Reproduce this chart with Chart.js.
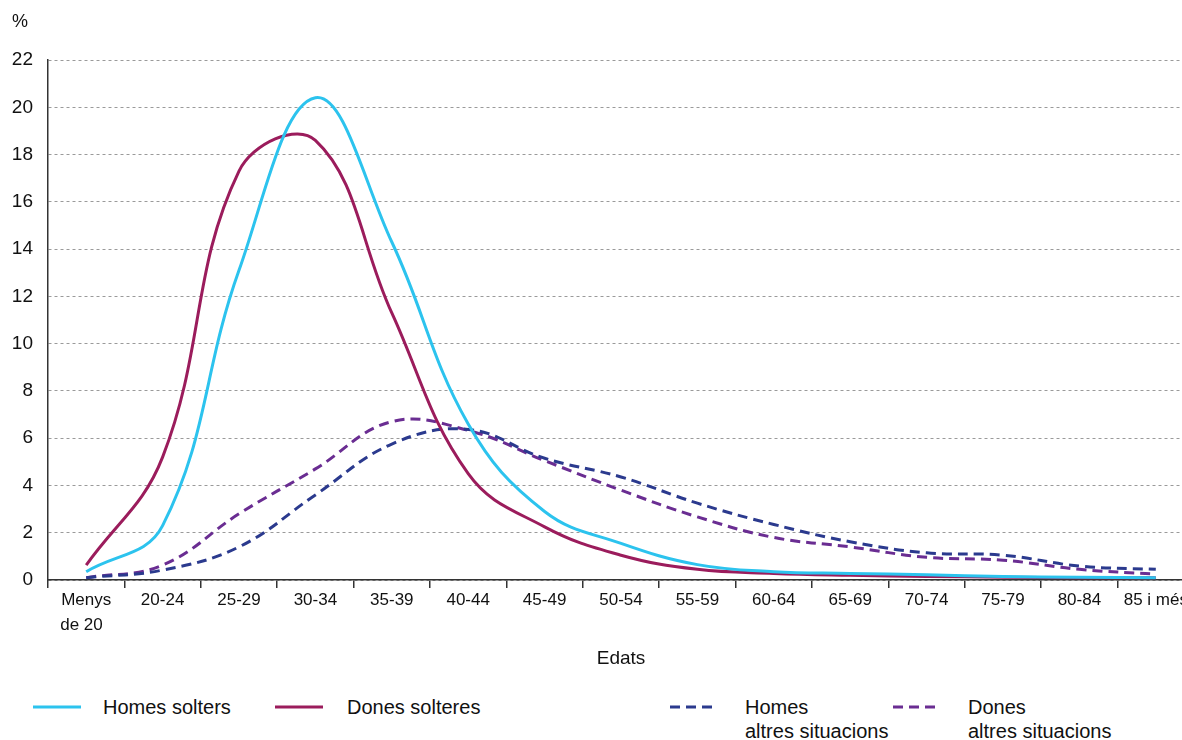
<!DOCTYPE html>
<html>
<head>
<meta charset="utf-8">
<script src="https://cdn.jsdelivr.net/npm/chart.js@4.4.1/dist/chart.umd.min.js"></script>
<style>
html, body { margin: 0; padding: 0; background: #fff; overflow: hidden; }
#wrap { position: relative; width: 1182px; height: 740px; overflow: hidden; font-family: "Liberation Sans", Arial, sans-serif; color: #111; }
#pct { position: absolute; left: 12px; top: 11px; font-size: 18px; }
#chart { position: absolute; left: 0; top: 0; }
.leg-line { position: absolute; top: 705px; }
.leg-txt { position: absolute; top: 695px; font-size: 20px; line-height: 24px; }
</style>
</head>
<body>
<div id="wrap">
  <canvas id="chart" width="1194" height="680"></canvas>
  <div id="pct">%</div>
  <div id="legend"></div>
</div>
<script>
var categories = [['Menys', 'de 20  '], '20-24', '25-29', '30-34', '35-39', '40-44', '45-49', '50-54', '55-59', '60-64', '65-69', '70-74', '75-79', '80-84', '85 i més'];

var homesSolters  = [0.35, 2.3, 13.1, 20.4, 14.3, 6.6, 2.9, 1.55, 0.65, 0.35, 0.28, 0.22, 0.15, 0.12, 0.1];
var donesSolteres = [0.63, 5.2, 17.3, 18.6, 11.3, 4.5, 2.25, 1.05, 0.45, 0.28, 0.2, 0.15, 0.12, 0.1, 0.1];
var homesAltres   = [0.1, 0.42, 1.4, 3.6, 5.75, 6.37, 5.15, 4.36, 3.25, 2.35, 1.62, 1.15, 1.05, 0.59, 0.45];
var donesAltres   = [0.1, 0.63, 2.8, 4.7, 6.7, 6.33, 5.05, 3.8, 2.67, 1.8, 1.4, 0.96, 0.84, 0.45, 0.25];

var yTicks = [0, 2, 4, 6, 8, 10, 12, 14, 16, 18, 20, 22];

var series = [
    { label: ['Homes solters'], data: homesSolters, color: '#2cc3ee', dash: [], left: 33, textLeft: 103 },
    { label: ['Dones solteres'], data: donesSolteres, color: '#9b1c5c', dash: [], left: 275, textLeft: 347 },
    { label: ['Homes', 'altres situacions'], data: homesAltres, color: '#2b3a8e', dash: [10, 6], left: 670, textLeft: 745 },
    { label: ['Dones', 'altres situacions'], data: donesAltres, color: '#6a2d92', dash: [10, 6], left: 893, textLeft: 968 }
];

var FONT = '"Liberation Sans", Arial, sans-serif';

// legend (html, under the chart)
var legHtml = '';
series.forEach(function(s) {
    legHtml += '<svg class="leg-line" style="left:' + s.left + 'px" width="48" height="4">' +
        '<line x1="0" y1="2" x2="48" y2="2" stroke="' + s.color + '" stroke-width="3"' +
        (s.dash.length ? ' stroke-dasharray="' + s.dash.join(' ') + '"' : '') + '/></svg>';
    legHtml += '<div class="leg-txt" style="left:' + s.textLeft + 'px">' + s.label.join('<br>') + '</div>';
});
document.getElementById('legend').innerHTML = legHtml;

var ctx = document.getElementById('chart').getContext('2d');
new Chart(ctx, {
    type: 'line',
    data: {
        labels: categories,
        datasets: series.map(function(s) {
            return {
                label: s.label.join(' '),
                data: s.data,
                borderColor: s.color,
                borderDash: s.dash,
                borderWidth: 3,
                tension: 0.4,
                pointRadius: 0,
                fill: false
            };
        })
    },
    options: {
        responsive: false,
        animation: false,
        layout: { padding: { top: 60, right: 0, left: 0, bottom: 0 } },
        plugins: { legend: { display: false }, tooltip: { enabled: false } },
        scales: {
            x: {
                offset: true,
                grid: { offset: true, drawOnChartArea: false, drawTicks: true, tickLength: 8, color: '#333', lineWidth: 1.5 },
                border: { color: '#333', width: 1.5 },
                ticks: {
                    autoSkip: false, maxRotation: 0, padding: 0, color: '#111',
                    font: { family: FONT, size: 17, lineHeight: 1.45 }
                },
                title: {
                    display: true, text: 'Edats', color: '#111',
                    font: { family: FONT, size: 19 },
                    padding: { top: 0, bottom: 10 }
                },
                afterFit: function(s) { s.height = 100; }
            },
            y: {
                min: 0, max: 22,
                afterBuildTicks: function(s) { s.ticks = yTicks.map(function(v) { return { value: v }; }); },
                grid: { drawTicks: false, color: '#9a9a9a', lineWidth: 1 },
                border: { color: '#333', width: 1.5, dash: [3, 3] },
                ticks: { padding: 15, color: '#111', font: { family: FONT, size: 19 } },
                afterFit: function(s) { s.width = 48; }
            }
        }
    }
});
</script>
</body>
</html>
